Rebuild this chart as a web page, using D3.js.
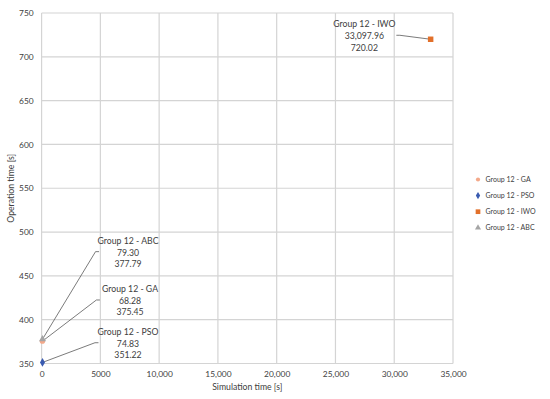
<!DOCTYPE html>
<html><head><meta charset="utf-8">
<script src="https://cdn.jsdelivr.net/npm/d3@7"></script>
<style>body{margin:0;background:#fff}svg{display:block}text{font-family:Lato,"Open Sans",sans-serif;fill:#404040}</style>
</head><body><svg id="c" width="550" height="399"></svg>
<script>
const seriesNames = ["Group 12 - GA","Group 12 - PSO","Group 12 - IWO","Group 12 - ABC"];
const simTime = [68.28, 74.83, 33097.96, 79.30];
const opTime = [375.45, 351.22, 720.02, 377.79];
const xLabelsText = ["68.28","74.83","33,097.96","79.30"];
const yLabelsText = ["375.45","351.22","720.02","377.79"];
const xTicks = [0,5000,10000,15000,20000,25000,30000,35000];
const xTickLabels = ["0","5000","10,000","15,000","20,000","25,000","30,000","35,000"];
const yTicks = [350,400,450,500,550,600,650,700,750];
const yTickLabels = ["350","400","450","500","550","600","650","700","750"];
const markers = ["circle","diamond","square","triangle"];
const colors = ["#f4a98a","#3a5bb0","#e2702a","#a5a5a5"];
// label layout (pixel offsets of label block center from point, leader end)
const labelLayout = [
  {dx:87.6, dy:-40.7, lx:54, ly:-41.2},
  {dx:85.5, dy:-18.9, lx:52.5, ly:-19.7},
  {dx:-66.3, dy:-3.5, lx:-30.8, ly:-4},
  {dx:85.5, dy:-86.7, lx:53, ly:-87.5}
];

const FS_TICK = "8.4px", FS_LAB = "8.7px", FS_LEG = "7px", FS_TITLE = "8.7px";
const svg = d3.select("#c");
const m = {l:41.6, r:453, t:13, b:363.5};
const x = d3.scaleLinear().domain([0,35000]).range([m.l,m.r]);
const y = d3.scaleLinear().domain([350,750]).range([m.b,m.t]);

const g = svg.append("g");
g.selectAll(".gx").data(xTicks).join("line")
  .attr("x1",d=>x(d)).attr("x2",d=>x(d)).attr("y1",m.t).attr("y2",m.b)
  .attr("stroke","#d4d4d4").attr("stroke-width",1.2);
g.selectAll(".gy").data(yTicks).join("line")
  .attr("x1",m.l).attr("x2",m.r).attr("y1",d=>y(d)).attr("y2",d=>y(d))
  .attr("stroke","#d4d4d4").attr("stroke-width",1.2);

const xAxis = d3.axisBottom(x).tickValues(xTicks).tickFormat((d,i)=>xTickLabels[i]).tickSize(0).tickPadding(8);
const ax = svg.append("g").attr("transform",`translate(0,${m.b})`).call(xAxis);
ax.select(".domain").remove();
ax.selectAll("text").attr("font-size",FS_TICK).attr("fill","#404040").style("font-family","Lato,sans-serif");
const yAxis = d3.axisLeft(y).tickValues(yTicks).tickFormat((d,i)=>yTickLabels[i]).tickSize(0).tickPadding(8);
const ay = svg.append("g").attr("transform",`translate(${m.l},0)`).call(yAxis);
ay.select(".domain").remove();
ay.selectAll("text").attr("font-size",FS_TICK).attr("fill","#404040").style("font-family","Lato,sans-serif");

svg.append("text").attr("x",(m.l+m.r)/2).attr("y",389.5).attr("text-anchor","middle").attr("font-size",FS_TITLE).text("Simulation time [s]");
svg.append("text").attr("transform",`translate(14,${(m.t+m.b)/2}) rotate(-90)`).attr("text-anchor","middle").attr("font-size",FS_TITLE).text("Operation time [s]");

const symMap = {circle:d3.symbolCircle, diamond:d3.symbolDiamond, square:d3.symbolSquare, triangle:d3.symbolTriangle};
const sizes = {circle:22, diamond:22, square:30, triangle:22};

seriesNames.forEach((name,i)=>{
  const px = x(simTime[i]), py = y(opTime[i]);
  const L = labelLayout[i];
  const hx = L.lx + (L.lx>0?3.5:-3.5);
  svg.append("polyline").attr("points",`${px},${py} ${px+L.lx},${py+L.ly} ${px+hx},${py+L.ly}`)
    .attr("fill","none").attr("stroke","#595959").attr("stroke-width",0.8);
  const t = svg.append("text").attr("text-anchor","middle").attr("font-size",FS_LAB).attr("fill","#404040");
  [name, xLabelsText[i], yLabelsText[i]].forEach((s,k)=>{
    t.append("tspan").attr("x",px+L.dx).attr("y",py+L.dy+(k-1)*11.6+3.2).text(s);
  });
});

seriesNames.forEach((name,i)=>{
  svg.append("path").attr("d",d3.symbol(symMap[markers[i]],sizes[markers[i]])())
    .attr("transform",`translate(${x(simTime[i])},${y(opTime[i])})`).attr("fill",colors[i]);
});

const lg = svg.append("g").attr("transform","translate(478,179.5)");
const legSizes = {circle:14, diamond:16, square:22, triangle:16};
seriesNames.forEach((name,i)=>{
  const gi = lg.append("g").attr("transform",`translate(0,${i*16.1})`);
  gi.append("path").attr("d",d3.symbol(symMap[markers[i]],legSizes[markers[i]])()).attr("fill",colors[i]);
  gi.append("text").attr("x",7.5).attr("y",2.6).attr("font-size",FS_LEG).text(name);
});
</script></body></html>
